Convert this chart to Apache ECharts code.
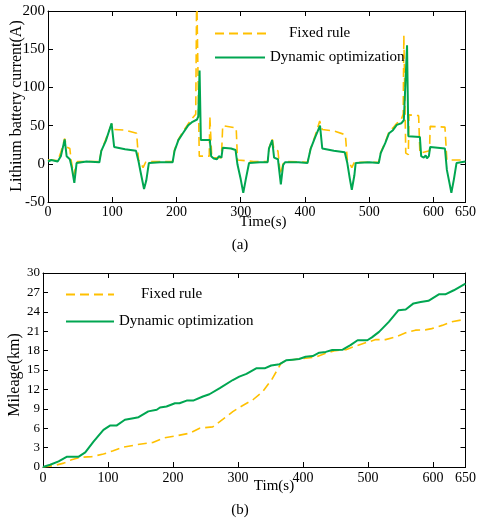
<!DOCTYPE html>
<html>
<head>
<meta charset="utf-8">
<script src="https://cdn.jsdelivr.net/npm/echarts@6/dist/echarts.min.js"></script>
<style>
  html, body { margin: 0; padding: 0; background: #ffffff; }
  #chart { width: 479px; height: 521px; }
</style>
</head>
<body>
<div id="chart"></div>
<script>
// (a) lithium battery current over the drive cycle, [time s, current A]
const currentFixedRule = [
  [0,5],[5,5],[15,4],[20,15],[26,33],[29,22],[34,20],[36,5],[40,-15],[44,0],[46,3],
  [80,3],[83,17],[90,32],[99,52],[103,45],[120,44],[138,40],[141,5],[145,0],[148,-5],[152,2],[157,3],
  [194,3],[197,18],[203,32],[210,42],[218,52],[225,60],[230,65],[231.5,230],[235.5,10],[251,10],
  [252,62],[254,62],[255,8],[270,8],[272,50],[293,47],[295,5],[320,3],
  [342,3],[344,20],[349,33],[352,18],[358,17],[360,0],[362,-14],[366,0],[369,3],
  [404,2],[409,20],[416,37],[423,56],[427,45],[445,43],[463,38],[466,5],[470,0],[473,-5],[477,2],[480,3],
  [515,2],[518,15],[525,28],[531,42],[537,47],[543,53],[550,58],[553,65],[554,168],[557,14],[561,12],
  [562,64],[577,63],[579,14],[594,17],[595,49],[618,48],[621,5],[650,5]
];
const currentDynamicOpt = [
  [0,3],[5,5],[15,3],[20,10],[26,32],[29,10],[34,6],[37,-5],[41,-25],[44.5,1],[46,2],[60,3],
  [80,2],[83,17],[90,30],[99,53],[103,22],[120,19],[137,17],[141,3],[144,-10],[149.5,-33],[153,-22],[157,1],
  [175,2],[194,2],[197,17],[203,31],[210,40],[218,50],[225,55],[232,58],[234,62],[236,122],[238,31],
  [252,31],[254,10],[258,7],[261,9],[263,6],[266,10],[270,8],[272,21],[285,20],[292,18],
  [295,-1],[300,-20],[304,-38],[308,-20],[313,1],[330,2],
  [342,2],[344,20],[349,31],[352,8],[358,6],[362.5,-27],[366,-2],[369,2],[390,2],
  [404,1],[409,20],[416,35],[423.5,50],[427,20],[445,17],[462,15],[466,1],[470,-20],[473,-34],[477,-15],[479,1],
  [500,2],[515,1],[518,14],[525,27],[531,40],[537,44],[543,51],[550,53],[554,57],[559,155],[561,36],
  [579,35],[581,10],[585,8],[588,11],[590,7],[593,10],[595,22],[618,20],
  [621,-8],[625,-25],[628,-38],[632,-20],[636,1],[650,3]
];

// (b) cumulative mileage, [time s, km]
const mileageFixedRule = [
  [0,0],[16,0.2],[32,0.6],[44,1.13],[57,1.5],[75,1.6],[93,2.0],[108,2.5],[124,3.08],[144,3.44],
  [169,3.8],[185,4.47],[205,4.82],[226,5.24],[241,6.0],[261,6.2],[277,7.4],[292,8.57],[302,9.2],[323,10.4],
  [338,11.65],[353,13.7],[366,16.0],[374,16.5],[394,16.7],[420,17.0],[435,17.6],[450,18.0],[466,18.15],[481,18.7],
  [496,19.2],[512,19.7],[527,19.7],[542,20.1],[558,20.75],[573,21.16],[588,21.2],[598,21.4],[614,21.9],[629,22.45],
  [650,22.86]
];
const mileageDynamicOpt = [
  [0,0],[11,0.35],[24,0.87],[37,1.6],[55,1.6],[65,2.25],[78,3.95],[93,5.75],[103,6.4],[113,6.4],
  [126,7.3],[139,7.55],[147,7.7],[162,8.6],[175,8.85],[180,9.2],[190,9.35],[203,9.85],[210,9.85],[221,10.27],
  [231,10.27],[246,10.9],[256,11.25],[272,12.2],[292,13.45],[302,13.97],[313,14.4],[328,15.26],[341,15.26],[351,15.7],
  [364,15.9],[374,16.5],[384,16.6],[394,16.7],[404,17.05],[415,17.15],[425,17.67],[435,17.8],[445,18.1],[461,18.15],
  [473,18.85],[484,19.6],[499,19.6],[506,20.04],[517,20.9],[532,22.45],[547,24.25],[558,24.35],[570,25.3],[581,25.5],
  [593,25.7],[609,26.7],[619,26.7],[632,27.33],[650,28.36]
];

// axis ranges and tick spacing
const timeRange = [0, 650], timeStep = 100;
const currentRange = [-50, 200], currentStep = 50;
const mileageRange = [0, 30], mileageStep = 3;

const SERIF = '"Liberation Serif", "Times New Roman", serif';
const GREEN = '#00A651';
const ORANGE = '#FFC000';

const chart = echarts.init(document.getElementById('chart'), null, { renderer: 'canvas' });

// a closed box: labelled bottom/left axes plus mirrored top/right axes, all ticks inward
function boxAxis(gridIndex, range, step, position, labelled, fontSize, margin) {
  return {
    type: 'value', gridIndex, position,
    min: range[0], max: range[1], interval: step,
    axisLine: { show: true, onZero: false, lineStyle: { color: '#000', width: 1 } },
    axisTick: { show: true, inside: true, length: 5, lineStyle: { color: '#000', width: 1 } },
    axisLabel: {
      show: labelled, color: '#000', fontFamily: SERIF, fontSize, margin,
      showMinLabel: true, showMaxLabel: true
    },
    splitLine: { show: false }
  };
}

// one legend entry: a plain line sample followed by its label
function legendItem(name, left, top, itemWidth, textPad) {
  return {
    data: [name], left, top, padding: 0, orient: 'horizontal',
    itemWidth, itemHeight: 14, itemGap: 0, selectedMode: false,
    itemStyle: { opacity: 0, borderWidth: 0 },
    textStyle: { color: '#000', fontFamily: SERIF, fontSize: 15, padding: [0, 0, 0, textPad] }
  };
}

function textMark(text, x, y, fontSize, rotation) {
  return {
    type: 'text', x, y, rotation: rotation || 0,
    style: {
      text, fill: '#000', font: fontSize + 'px ' + SERIF,
      align: 'center', verticalAlign: 'middle'
    }
  };
}

const option = {
  animation: false,
  backgroundColor: '#ffffff',
  grid: [
    { left: 48, top: 11, width: 419, height: 191, containLabel: false },
    { left: 43, top: 273, width: 424, height: 194, containLabel: false }
  ],
  xAxis: [
    boxAxis(0, timeRange, timeStep, 'bottom', true, 14, 3),
    boxAxis(0, timeRange, timeStep, 'top', false, 14, 3),
    boxAxis(1, timeRange, timeStep, 'bottom', true, 14, 4),
    boxAxis(1, timeRange, timeStep, 'top', false, 14, 4)
  ],
  yAxis: [
    boxAxis(0, currentRange, currentStep, 'left', true, 15, 3),
    boxAxis(0, currentRange, currentStep, 'right', false, 15, 3),
    boxAxis(1, mileageRange, mileageStep, 'left', true, 13, 3),
    boxAxis(1, mileageRange, mileageStep, 'right', false, 13, 3)
  ],
  legend: [
    legendItem('Fixed rule', 214, 26, 51, 18),
    legendItem('Dynamic optimization', 214, 50, 50, 0),
    legendItem('Fixed rule', 65, 287, 48, 22),
    legendItem('Dynamic optimization', 65, 314, 48, 0)
  ],
  series: [
    {
      name: 'Fixed rule', type: 'line', xAxisIndex: 0, yAxisIndex: 0,
      data: currentFixedRule, symbol: 'none', clip: true,
      lineStyle: { color: ORANGE, width: 1.6, type: [9, 5] }, itemStyle: { color: ORANGE }, z: 2
    },
    {
      name: 'Dynamic optimization', type: 'line', xAxisIndex: 0, yAxisIndex: 0,
      data: currentDynamicOpt, symbol: 'none', clip: true,
      lineStyle: { color: GREEN, width: 2 }, itemStyle: { color: GREEN }, z: 3
    },
    {
      name: 'Fixed rule', type: 'line', xAxisIndex: 2, yAxisIndex: 2,
      data: mileageFixedRule, symbol: 'none', clip: true,
      lineStyle: { color: ORANGE, width: 1.6, type: [9, 5] }, itemStyle: { color: ORANGE }, z: 2
    },
    {
      name: 'Dynamic optimization', type: 'line', xAxisIndex: 2, yAxisIndex: 2,
      data: mileageDynamicOpt, symbol: 'none', clip: true,
      lineStyle: { color: GREEN, width: 2 }, itemStyle: { color: GREEN }, z: 3
    }
  ],
  graphic: [
    textMark('Lithium battery current(A)', 17, 106, 16, Math.PI / 2),
    textMark('Time(s)', 263, 222, 15),
    textMark('(a)', 240, 245, 15),
    textMark('Mileage(km)', 15, 375, 16, Math.PI / 2),
    textMark('Tim(s)', 274, 486, 15),
    textMark('(b)', 240, 510, 15)
  ]
};

chart.setOption(option);
</script>
</body>
</html>
